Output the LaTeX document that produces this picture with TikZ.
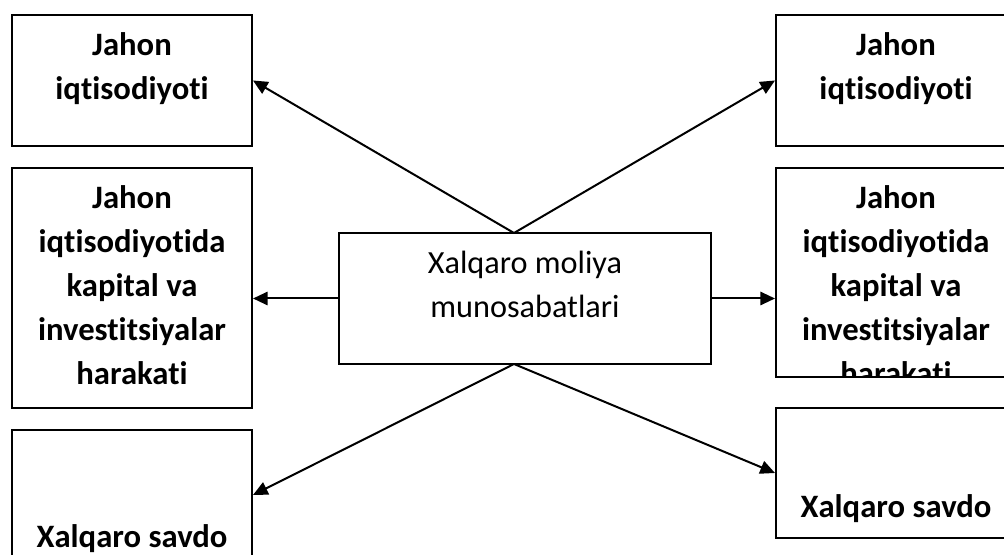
\documentclass[tikz,border=0pt]{standalone}
\usepackage{fontspec}
\setmainfont{Carlito}[Ligatures={NoCommon}]
\usetikzlibrary{arrows.meta}
\begin{document}
\begin{tikzpicture}[x=0.75pt, y=-0.75pt, line join=miter, line width=1.5pt, >={Triangle[length=11pt,width=10pt]}]
			\tikzset{box/.style={draw, rectangle, inner sep=0pt, minimum width=180pt},
				bold text/.style={inner sep=0pt, anchor=base, align=center, font=\fontsize{24.5}{33}\selectfont\bfseries},
				main text/.style={inner sep=0pt, anchor=base, align=center, font=\fontsize{24.2}{33}\selectfont}}
			\clip (0,0) rectangle (1004,555);
			% boxes on the left
			\node[box, minimum height=98.25pt] (lt) at (132,80.5) {};
			\node[box, minimum height=180pt] (lm) at (132,288) {};
			\node[box, minimum height=97.5pt] (lb) at (132,495) {};
			\node[bold text] (ltt) at (132,100) {Jahon\\iqtisodiyoti};
			\node[bold text] (lmt) at (132,385) {Jahon\\iqtisodiyotida\\kapital va\\investitsiyalar\\harakati};
			\node[bold text] (lbt) at (132,548) {Xalqaro savdo};
			% boxes on the right
			\node[box, minimum height=98.25pt] (rt) at (896,80.5) {};
			\node[box, minimum height=156.75pt] (rm) at (896,272.5) {};
			\node[box, minimum height=97.5pt] (rb) at (896,473) {};
			\node[bold text] (rtt) at (896,100) {Jahon\\iqtisodiyoti};
			\begin{scope}
				\clip (rm.south west) rectangle (rm.north east);
				\node[bold text] (rmt) at (896,385) {Jahon\\iqtisodiyotida\\kapital va\\investitsiyalar\\harakati};
			\end{scope}
			\node[bold text] (rbt) at (896,518) {Xalqaro savdo};
			% centre
			\node[box, minimum width=279pt, minimum height=98.25pt] (mid) at (525,298.5) {};
			\node[main text] (midt) at (525,318) {Xalqaro moliya\\munosabatlari};
			\coordinate (up) at (514,233);
			\coordinate (down) at (514,364);
			\draw[->] (up) -- (lt.east);
			\draw[->] (up) -- (rt.west);
			\draw[->] (mid.west) -- (mid.west -| lm.east);
			\draw[->] (mid.east) -- (mid.east -| rm.west);
			\draw[->] (down) -- (lb.east);
			\draw[->] (down) -- (rb.west);
		\end{tikzpicture}
\end{document}
